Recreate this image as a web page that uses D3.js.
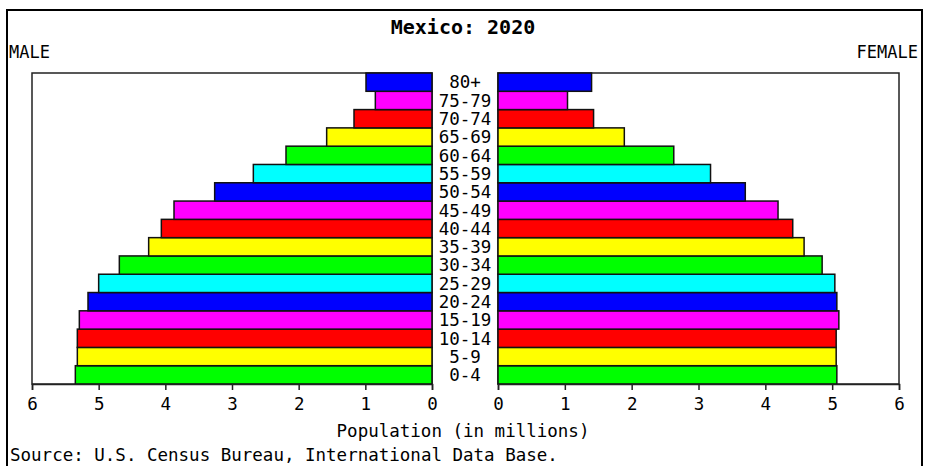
<!DOCTYPE html>
<html>
<head>
<meta charset="utf-8">
<script src="https://cdn.jsdelivr.net/npm/d3@7"></script>
<style>
  body { margin: 0; background: #fff; }
  text { font-family: "DejaVu Sans Mono", "Liberation Mono", monospace; fill: #000; }
</style>
</head>
<body>
<script>
// age groups, youngest first
var ageGroups = ["0-4","5-9","10-14","15-19","20-24","25-29","30-34","35-39","40-44",
                 "45-49","50-54","55-59","60-64","65-69","70-74","75-79","80+"];
// population in millions
var maleValues   = [5.35,5.32,5.32,5.29,5.16,5.00,4.69,4.25,4.06,3.87,3.26,2.68,2.19,1.58,1.17,0.85,0.99];
var femaleValues = [5.07,5.06,5.06,5.10,5.07,5.04,4.85,4.58,4.41,4.19,3.70,3.18,2.63,1.89,1.43,1.04,1.40];
var tickValues = [0,1,2,3,4,5,6];
var barColors = ["#00ff00","#ffff00","#ff0000","#ff00ff","#0000ff","#00ffff"];

var width = 926, height = 466;

var svg = d3.select("body").append("svg")
    .attr("width", width)
    .attr("height", height);

// outer frame
svg.append("rect")
    .attr("x", 7).attr("y", 10)
    .attr("width", 915).attr("height", 480)
    .attr("fill", "none").attr("stroke", "#000").attr("stroke-width", 2);

svg.append("text")
    .attr("x", 463).attr("y", 34)
    .attr("text-anchor", "middle")
    .style("font-size", "20px").style("font-weight", "bold")
    .text("Mexico: 2020");

svg.append("text").attr("x", 9).attr("y", 58)
    .style("font-size", "17px").text("MALE");
svg.append("text").attr("x", 918).attr("y", 58)
    .attr("text-anchor", "end")
    .style("font-size", "17px").text("FEMALE");

var plotTop = 73, plotBottom = 384;

var y = d3.scaleBand()
    .domain(ageGroups.slice().reverse())
    .range([plotTop, plotBottom])
    .padding(0);

var xMale = d3.scaleLinear().domain([0, 6]).range([432, 32]);
var xFemale = d3.scaleLinear().domain([0, 6]).range([498, 899]);

//panel frames
[xMale, xFemale].forEach(function(x){
    var r = x.range();
    svg.append("rect")
        .attr("x", Math.min(r[0], r[1])).attr("y", plotTop)
        .attr("width", Math.abs(r[1] - r[0])).attr("height", plotBottom - plotTop)
        .attr("fill", "none").attr("stroke", "#222").attr("stroke-width", 1.5);
});

function drawBars(values, x, cls){
    svg.selectAll("." + cls)
        .data(values)
        .enter()
        .append("rect")
        .attr("class", cls)
        .attr("x", function(d){ return Math.min(x(0), x(d)); })
        .attr("y", function(d, i){ return y(ageGroups[i]); })
        .attr("width", function(d){ return Math.abs(x(d) - x(0)); })
        .attr("height", y.bandwidth())
        .attr("fill", function(d, i){ return barColors[i % barColors.length]; })
        .attr("stroke", "#111")
        .attr("stroke-width", 1.5);
}
drawBars(maleValues, xMale, "male");
drawBars(femaleValues, xFemale, "female");

//age labels
svg.selectAll(".age")
    .data(ageGroups)
    .enter()
    .append("text")
    .attr("class", "age")
    .attr("x", 465)
    .attr("y", function(d){ return y(d) + y.bandwidth() / 2; })
    .attr("dy", "0.36em")
    .attr("text-anchor", "middle")
    .style("font-size", "17.5px")
    .text(function(d){ return d; });

//axes
function drawAxis(x){
    var g = svg.append("g")
        .attr("transform", "translate(0," + plotBottom + ")")
        .call(d3.axisBottom(x).tickValues(tickValues).tickSize(6).tickPadding(8).tickFormat(d3.format("d")));
    g.select(".domain").attr("stroke", "#222").attr("stroke-width", 1.5);
    g.selectAll(".tick line").attr("stroke", "#222").attr("stroke-width", 1.5);
    g.selectAll(".tick text")
        .style("font-family", "DejaVu Sans Mono, monospace")
        .style("font-size", "17.5px");
}
drawAxis(xMale);
drawAxis(xFemale);

svg.append("text")
    .attr("x", 463).attr("y", 437)
    .attr("text-anchor", "middle")
    .style("font-size", "17.5px")
    .text("Population (in millions)");

svg.append("text")
    .attr("x", 10).attr("y", 461)
    .style("font-size", "17.5px")
    .text("Source: U.S. Census Bureau, International Data Base.");
</script>
</body>
</html>
